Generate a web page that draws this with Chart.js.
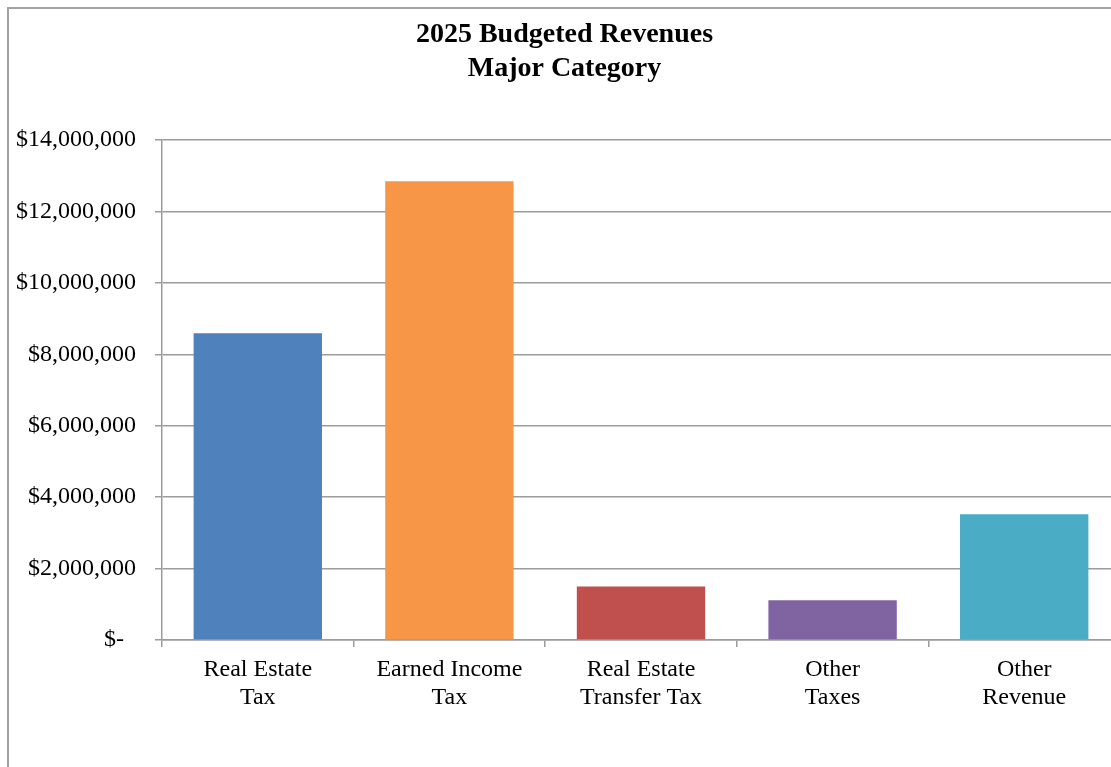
<!DOCTYPE html>
<html>
<head>
<meta charset="utf-8">
<title>2025 Budgeted Revenues</title>
<script src="https://cdn.jsdelivr.net/npm/chart.js@4/dist/chart.umd.min.js"></script>
<style>
    html, body {
        margin: 0;
        padding: 0;
        background: #ffffff;
        overflow: hidden;
    }
    .chart-frame {
        position: absolute;
        left: 7px;
        top: 7px;
        width: 1125px;
        height: 780px;
        border: 2px solid #a3a3a3;
        background: #ffffff;
    }
</style>
</head>
<body>
<div class="chart-frame">
    <canvas id="revenueChart" width="1125" height="760"></canvas>
</div>

<script>
// Revenue categories and budgeted amounts
const categories = [
    ["Real Estate", "Tax"],
    ["Earned Income", "Tax"],
    ["Real Estate", "Transfer Tax"],
    ["Other", "Taxes"],
    ["Other", "Revenue"]
];
const budgeted = [8590000, 12850000, 1500000, 1110000, 3520000];
const barColors = ["#4f81bd", "#f79646", "#c0504d", "#8064a2", "#4bacc6"];

const yMax = 14000000;
const yStep = 2000000;

const serif = "'Liberation Serif', 'Times New Roman', serif";
const gridGray = "#9c9c9c";

function money(v) {
    if (v === 0) return "$-  ";
    return "$" + v.toLocaleString("en-US");
}

const ctx = document.getElementById("revenueChart").getContext("2d");

new Chart(ctx, {
    type: "bar",
    data: {
        labels: categories,
        datasets: [{
            data: budgeted,
            backgroundColor: barColors,
            borderWidth: 0,
            barPercentage: 0.67,
            categoryPercentage: 1
        }]
    },
    options: {
        responsive: false,
        animation: false,
        layout: {
            padding: { left: 0, right: 14, top: 0, bottom: 0 }
        },
        scales: {
            x: {
                grid: {
                    offset: true,
                    drawOnChartArea: false,
                    drawTicks: true,
                    tickLength: 7,
                    color: gridGray,
                    lineWidth: 1.5
                },
                border: { color: gridGray, width: 1.5 },
                ticks: {
                    color: "#000000",
                    padding: 8,
                    maxRotation: 0,
                    autoSkip: false,
                    font: { family: serif, size: 24, lineHeight: 1.2 }
                },
                afterFit: function (scale) {
                    scale.height = 129;
                }
            },
            y: {
                min: 0,
                max: yMax,
                grid: {
                    color: gridGray,
                    lineWidth: 1.5,
                    drawTicks: true,
                    tickLength: 7
                },
                border: { color: gridGray, width: 1.5 },
                ticks: {
                    stepSize: yStep,
                    color: "#000000",
                    padding: 19,
                    font: { family: serif, size: 24 },
                    callback: function (value) {
                        return money(value);
                    }
                },
                afterFit: function (scale) {
                    scale.width = 153;
                }
            }
        },
        plugins: {
            legend: { display: false },
            tooltip: { enabled: false },
            title: {
                display: true,
                text: ["2025 Budgeted Revenues", "Major Category"],
                color: "#000000",
                font: { family: serif, size: 28, weight: "bold", lineHeight: 1.2 },
                padding: { top: 9, bottom: 55 }
            }
        }
    }
});
</script>
</body>
</html>
